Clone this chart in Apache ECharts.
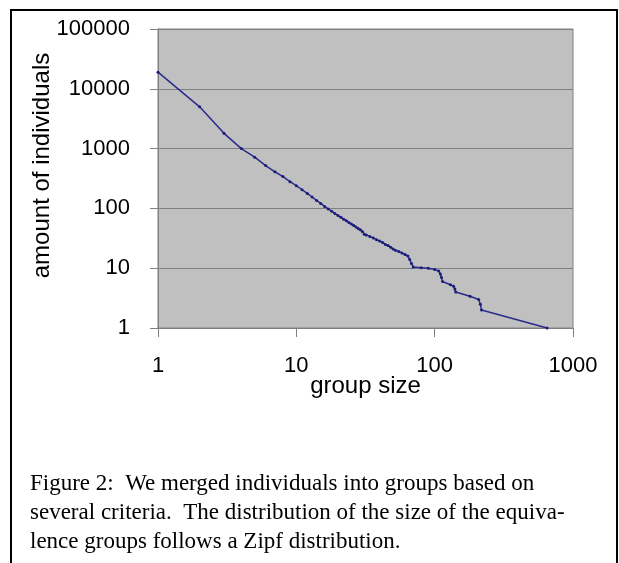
<!DOCTYPE html>
<html>
<head>
<meta charset="utf-8">
<script src="https://cdn.jsdelivr.net/npm/echarts@6/dist/echarts.min.js"></script>
<style>
  html, body { margin: 0; padding: 0; background: #fff; }
  #info { width: 619px; height: 563px; }
</style>
</head>
<body>
<div id="info"></div>
<script>
// group size (x) and amount of individuals (y)
var groupSize = [
  1, 2, 3, 4, 5, 6, 7, 8, 9, 10,
  11, 12, 13, 14, 15, 16, 17, 18, 19, 20,
  21, 22, 23, 24, 25, 26, 27, 28, 29, 30,
  31, 32, 34, 36, 38, 40, 42, 44, 46, 48,
  50, 52, 55, 58, 61, 64, 66, 68, 70, 80,
  90, 100, 107, 110, 112, 114, 130, 137, 140, 142,
  180, 208, 214, 218, 650
];
var individuals = [
  19000, 5000, 1800, 1000, 720, 520, 410, 340, 280, 240,
  205, 178, 155, 136, 121, 108, 98, 90, 82, 76,
  71, 66, 62, 58, 55, 52, 49, 46, 44, 41,
  37, 36, 34, 32, 30, 28.5, 27, 25, 24, 22.5,
  21, 20, 19, 18, 17, 16, 14, 12, 10.5, 10.2,
  10, 9.5, 9, 8, 7, 6, 5.3, 5, 4.5, 4,
  3.4, 3, 2.5, 2, 1
];
var xTicks = ["1", "10", "100", "1000"];
var yTicks = ["1", "10", "100", "1000", "10000", "100000"];
var caption = [
  "Figure 2:  We merged individuals into groups based on",
  "several criteria.  The distribution of the size of the equiva-",
  "lence groups follows a Zipf distribution."
];

var points = groupSize.map(function(x, i) {
  return [x, individuals[i]];
});

var captionTexts = caption.map(function(line, i) {
  return {
    type: "text",
    left: 30,
    top: 472 + i * 29,
    style: {
      text: line,
      fill: "#000",
      font: "23px 'Liberation Serif', 'Times New Roman', serif"
    }
  };
});

var option = {
  animation: false,
  backgroundColor: "#fff",
  grid: {
    left: 158,
    top: 29,
    right: 46,
    bottom: 235,
    show: true,
    backgroundColor: "#c0c0c0",
    borderColor: "#808080",
    borderWidth: 1
  },
  xAxis: {
    type: "log",
    logBase: 10,
    min: 1,
    max: 1000,
    name: "group size",
    nameLocation: "middle",
    nameGap: 46,
    nameMoveOverlap: false,
    nameTextStyle: {
      fontFamily: "'Liberation Sans', Arial, sans-serif",
      fontSize: 24,
      color: "#000"
    },
    axisLine: { show: true, lineStyle: { color: "#808080" } },
    axisTick: { show: true, length: 9, lineStyle: { color: "#808080" } },
    minorTick: { show: false },
    splitLine: { show: false },
    axisLabel: {
      margin: 27,
      fontFamily: "'Liberation Sans', Arial, sans-serif",
      fontSize: 22,
      color: "#000",
      formatter: function(v) {
        var i = Math.round(Math.log10(v));
        return xTicks[i];
      }
    }
  },
  yAxis: {
    type: "log",
    logBase: 10,
    min: 1,
    max: 100000,
    name: "amount of individuals",
    nameLocation: "middle",
    nameGap: 104,
    nameRotate: 90,
    nameMoveOverlap: false,
    nameTextStyle: {
      fontFamily: "'Liberation Sans', Arial, sans-serif",
      fontSize: 24,
      color: "#000",
      padding: [0, 0, 0, 26]
    },
    axisLine: { show: true, lineStyle: { color: "#808080" } },
    axisTick: { show: true, length: 8, lineStyle: { color: "#808080" } },
    splitLine: { show: true, lineStyle: { color: "#808080", width: 1 } },
    axisLabel: {
      margin: 28,
      fontFamily: "'Liberation Sans', Arial, sans-serif",
      fontSize: 22,
      color: "#000",
      formatter: function(v) {
        var i = Math.round(Math.log10(v));
        return yTicks[i];
      }
    }
  },
  series: [
    {
      type: "line",
      data: points,
      smooth: false,
      symbol: "circle",
      symbolSize: 3,
      itemStyle: { color: "#1c1c7a" },
      lineStyle: { color: "#2a2a8c", width: 1.5 }
    }
  ],
  graphic: [
    {
      type: "polyline",
      shape: { points: [[11, 563], [11, 10], [617, 10], [617, 563]] },
      style: { stroke: "#000", lineWidth: 2, fill: null }
    }
  ].concat(captionTexts)
};

var dom = document.getElementById("info");
var myChart = echarts.init(dom);
myChart.setOption(option);
</script>
</body>
</html>
